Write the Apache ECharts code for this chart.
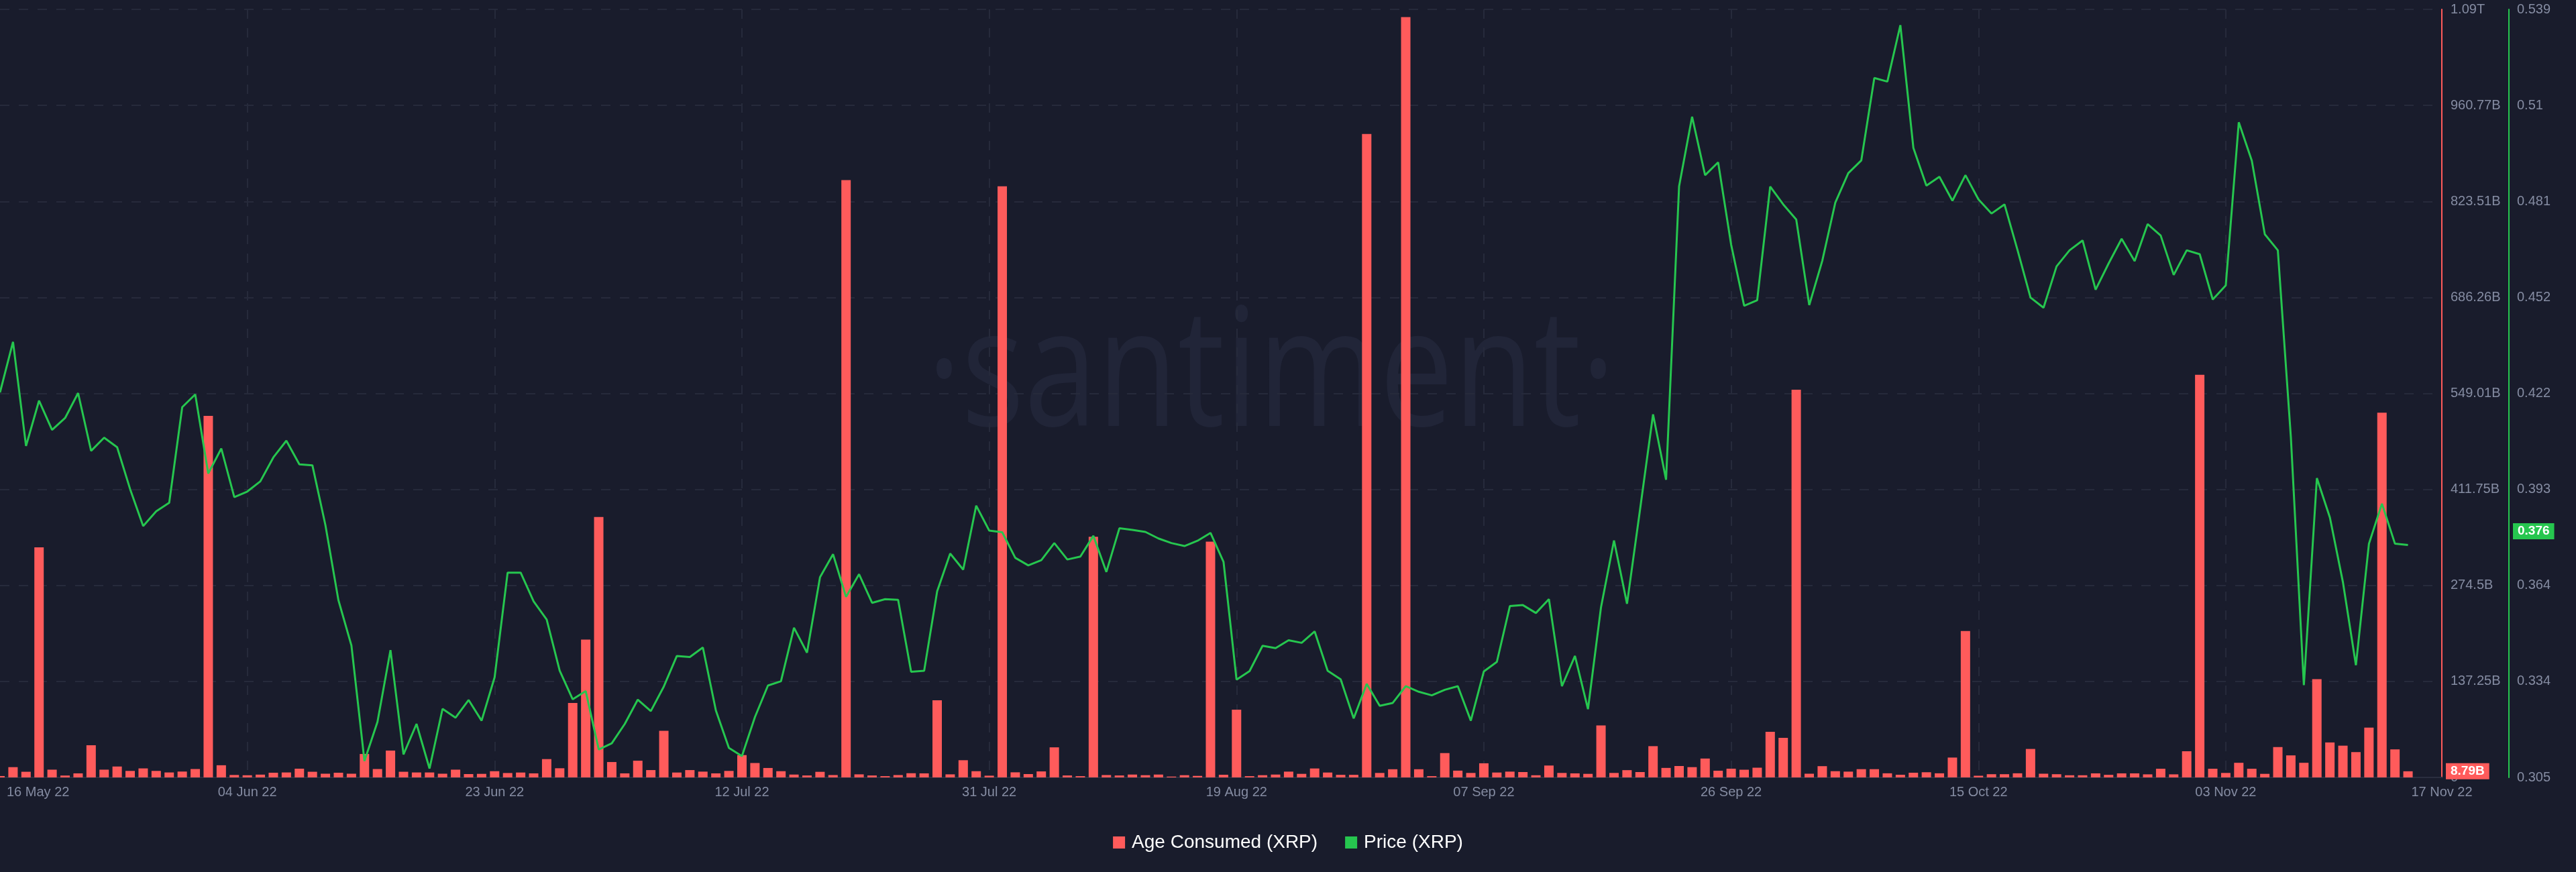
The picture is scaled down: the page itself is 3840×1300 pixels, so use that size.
<!DOCTYPE html>
<html>
<head>
<meta charset="utf-8">
<script src="https://cdn.jsdelivr.net/npm/echarts@6/dist/echarts.min.js"></script>
<style>
html,body{margin:0;padding:0;background:#191c2c;}
#chart{width:3840px;height:1300px;}
</style>
</head>
<body>
<div id="chart"></div>
<script>
// ---- data ----
const startDate = '2022-05-16';   // day index 0
const xTickLabels = ['16 May 22','04 Jun 22','23 Jun 22','12 Jul 22','31 Jul 22','19 Aug 22','07 Sep 22','26 Sep 22','15 Oct 22','03 Nov 22','17 Nov 22'];
const ageTickLabels = ['0','137.25B','274.5B','411.75B','549.01B','686.26B','823.51B','960.77B','1.09T'];
const priceTickLabels = ['0.305','0.334','0.364','0.393','0.422','0.452','0.481','0.51','0.539'];

// Age Consumed (XRP), in billions, one per day from 16 May 22 to 17 Nov 22
const ageConsumedB = [
  2, 14.7, 8.1, 329, 11.1, 2.7, 5.8, 46, 11.1, 15.6,
  9.3, 12.9, 9.3, 7.1, 8.4, 12, 517, 17.4, 3.5, 3.1,
  4, 6.7, 7.1, 12.5, 8.1, 5.3, 6.7, 5.3, 33.5, 12,
  38.4, 8.1, 7.1, 7.1, 5.3, 11.1, 4.8, 5.1, 8.9, 6.3,
  7, 5.8, 26.2, 13.1, 106.5, 197, 372.4, 22, 5.8, 23.9,
  10.5, 66.7, 7, 10.5, 8.3, 5.8, 9.3, 31.9, 20.6, 13.5,
  8.9, 4.1, 2.8, 8, 3.4, 854, 4.4, 2.8, 1.8, 3.4,
  6, 5.8, 110.4, 4.4, 24.6, 8.9, 2.5, 845, 7.3, 4.8,
  8.6, 43, 2.8, 1.8, 344, 3.4, 2.8, 4.1, 3.2, 4.1,
  1.2, 3.2, 2.2, 337, 3.8, 96.9, 1.8, 3.2, 4.1, 8.3,
  5.1, 12.8, 7, 3.7, 3.7, 920, 6.4, 11.7, 1087, 11.7,
  1.8, 34.8, 9.7, 6.4, 20.2, 7, 8.3, 7.7, 3.1, 17,
  6.4, 5.8, 5.1, 74.4, 6.4, 10.4, 7.7, 44.7, 13.6, 16.3,
  14.7, 27, 9.6, 12.5, 11, 13.9, 65.2, 56.6, 554.4, 5.3,
  16.1, 8.9, 8.3, 11.8, 11.8, 5.9, 3.8, 6.7, 7.4, 5.9,
  28.4, 209.4, 2.4, 4.6, 4.6, 5.9, 40.7, 5.3, 4.6, 3.1,
  3.1, 5.8, 3.7, 5.8, 5.8, 4.4, 12.4, 4.4, 37.4, 575.7,
  12.4, 6.4, 20.9, 12.4, 5.1, 43.4, 31.5, 20.9, 140.5, 50,
  45.4, 36.2, 71.2, 521.5, 40.1, 8.79
];

// Price (XRP), USD, one per day
const priceUSD = [
  0.4223, 0.4377, 0.4060, 0.4198, 0.4109, 0.4145, 0.4221, 0.4045, 0.4085, 0.4056,
  0.3928, 0.3816, 0.3861, 0.3887, 0.4178, 0.4217, 0.3976, 0.4052, 0.3904, 0.3921,
  0.3952, 0.4025, 0.4076, 0.4004, 0.4001, 0.3819, 0.3590, 0.3452, 0.3100, 0.3219,
  0.3438, 0.3120, 0.3213, 0.3077, 0.3259, 0.3232, 0.3286, 0.3223, 0.3355, 0.3674,
  0.3674, 0.3586, 0.3531, 0.3375, 0.3288, 0.3313, 0.3135, 0.3154, 0.3213, 0.3287,
  0.3252, 0.3327, 0.3420, 0.3417, 0.3446, 0.3254, 0.3140, 0.3115, 0.3234, 0.3330,
  0.3343, 0.3506, 0.3430, 0.3660, 0.3730, 0.3600, 0.3669, 0.3582, 0.3593, 0.3591,
  0.3372, 0.3375, 0.3617, 0.3732, 0.3683, 0.3878, 0.3802, 0.3797, 0.3719, 0.3696,
  0.3712, 0.3764, 0.3714, 0.3723, 0.3786, 0.3676, 0.3809, 0.3804, 0.3798, 0.3778,
  0.3764, 0.3755, 0.3771, 0.3795, 0.3707, 0.3348, 0.3374, 0.3451, 0.3444, 0.3468,
  0.3460, 0.3495, 0.3375, 0.3349, 0.3230, 0.3335, 0.3268, 0.3277, 0.3328, 0.3311,
  0.3300, 0.3317, 0.3328, 0.3223, 0.3373, 0.3402, 0.3572, 0.3575, 0.3551, 0.3593,
  0.3328, 0.3420, 0.3258, 0.3568, 0.3772, 0.3579, 0.3866, 0.4156, 0.3957, 0.4851,
  0.5063, 0.4885, 0.4924, 0.4673, 0.4487, 0.4504, 0.4850, 0.4796, 0.4750, 0.4489,
  0.4624, 0.4801, 0.4891, 0.4930, 0.5181, 0.5170, 0.5342, 0.4968, 0.4853, 0.4880,
  0.4807, 0.4885, 0.4811, 0.4768, 0.4796, 0.4657, 0.4512, 0.4481, 0.4607, 0.4656,
  0.4686, 0.4536, 0.4616, 0.4691, 0.4623, 0.4736, 0.4701, 0.4581, 0.4656, 0.4644,
  0.4506, 0.4549, 0.5046, 0.4929, 0.4705, 0.4656, 0.4088, 0.3331, 0.3962, 0.3842,
  0.3645, 0.3392, 0.3762, 0.3884, 0.3762, 0.3758
];

const seriesNames = ['Age Consumed (XRP)', 'Price (XRP)'];
const lastAgeLabel = '8.79B';
const lastPriceLabel = '0.376';

// ---- style ----
const RED = '#ff5b5b';
const GREEN = '#26c64f';
const BG = '#191c2c';
const GRID = '#262a3b';
const LABEL = '#858ca2';
const FONT = '"Liberation Sans", Arial, Helvetica, sans-serif';

const ageMax = 1098.02e9, ageInterval = 137.2525e9;
const priceMin = 0.305, priceMax = 0.539, priceInterval = 0.02925;
const xMax = 187.6, xInterval = 19;

const chart = echarts.init(document.getElementById('chart'), null, {renderer: 'canvas'});

function badgeLabel(text, color, distance) {
  return {
    show: true,
    position: 'end',
    distance: distance,
    formatter: text,
    color: '#ffffff',
    opacity: 1,
    fontSize: 19,
    fontWeight: 'bold',
    fontFamily: FONT,
    backgroundColor: color,
    padding: [3, 7, 2, 7]
  };
}

const option = {
  backgroundColor: BG,
  animation: false,
  textStyle: {fontFamily: FONT},
  graphic: [{
    type: 'text',
    z: 0,
    x: 1895,
    y: 565,
    scaleX: 0.8,
    silent: true,
    style: {
      text: '·santiment·',
      font: '245px "Open Sans"',
      fill: '#212538',
      align: 'center',
      verticalAlign: 'middle'
    }
  }],
  grid: {left: 0, right: 200, top: 14, bottom: 141, containLabel: false},
  legend: {
    data: seriesNames,
    left: 'center',
    top: 1237,
    icon: 'rect',
    itemWidth: 18,
    itemHeight: 18,
    itemGap: 41,
    textStyle: {color: '#ffffff', fontSize: 28, fontFamily: FONT, padding: [0, 0, 0, 5]}
  },
  xAxis: {
    type: 'value',
    min: 0,
    max: xMax,
    interval: xInterval,
    axisLine: {show: true, onZero: false, lineStyle: {color: '#2a2e3f', width: 2}},
    axisTick: {show: false},
    splitLine: {show: true, showMinLine: false, showMaxLine: false, lineStyle: {color: GRID, width: 2, type: [14, 14]}},
    axisLabel: {
      color: LABEL,
      fontSize: 20,
      fontFamily: FONT,
      margin: 12,
      alignMinLabel: 'left',
      hideOverlap: false,
      formatter: function (v) {
        if (Math.abs(v - xMax) < 1e-6) return xTickLabels[xTickLabels.length - 1];
        const i = Math.round(v / xInterval);
        if (i === 0) return '{first|' + xTickLabels[0] + '}';
        return xTickLabels[i] || '';
      },
      rich: {first: {color: LABEL, fontSize: 20, fontFamily: FONT, padding: [0, 0, 0, 10]}}
    }
  },
  yAxis: [
    {
      type: 'value',
      position: 'right',
      min: 0,
      max: ageMax,
      interval: ageInterval,
      axisLine: {show: true, onZero: false, lineStyle: {color: RED, width: 2}},
      axisTick: {show: false},
      splitLine: {show: true, lineStyle: {color: GRID, width: 2, type: [14, 14]}},
      axisLabel: {
        color: LABEL, fontSize: 20, fontFamily: FONT, margin: 13,
        formatter: function (v) { return ageTickLabels[Math.round(v / ageInterval)] || ''; }
      }
    },
    {
      type: 'value',
      position: 'right',
      offset: 100,
      min: priceMin,
      max: priceMax,
      interval: priceInterval,
      axisLine: {show: true, onZero: false, lineStyle: {color: GREEN, width: 2}},
      axisTick: {show: false},
      splitLine: {show: false},
      axisLabel: {
        color: LABEL, fontSize: 20, fontFamily: FONT, margin: 12,
        formatter: function (v) { return priceTickLabels[Math.round((v - priceMin) / priceInterval)] || ''; }
      }
    }
  ],
  series: [
    {
      name: seriesNames[0],
      type: 'bar',
      yAxisIndex: 0,
      barWidth: 14,
      itemStyle: {color: RED},
      data: ageConsumedB.map((v, i) => [i, v * 1e9]),
      z: 2,
      markLine: {
        silent: true,
        symbol: 'none',
        lineStyle: {color: 'rgba(0,0,0,0)', width: 0},
        data: [{yAxis: ageConsumedB[ageConsumedB.length - 1] * 1e9}],
        label: badgeLabel(lastAgeLabel, RED, 6)
      }
    },
    {
      name: seriesNames[1],
      type: 'line',
      yAxisIndex: 1,
      symbol: 'none',
      lineStyle: {color: GREEN, width: 3},
      itemStyle: {color: GREEN},
      data: priceUSD.map((v, i) => [i, v]),
      z: 3,
      markLine: {
        silent: true,
        symbol: 'none',
        lineStyle: {color: 'rgba(0,0,0,0)', width: 0},
        data: [{yAxis: priceUSD[priceUSD.length - 1]}],
        label: badgeLabel(lastPriceLabel, GREEN, 106)
      }
    }
  ]
};

chart.setOption(option);
</script>
</body>
</html>
